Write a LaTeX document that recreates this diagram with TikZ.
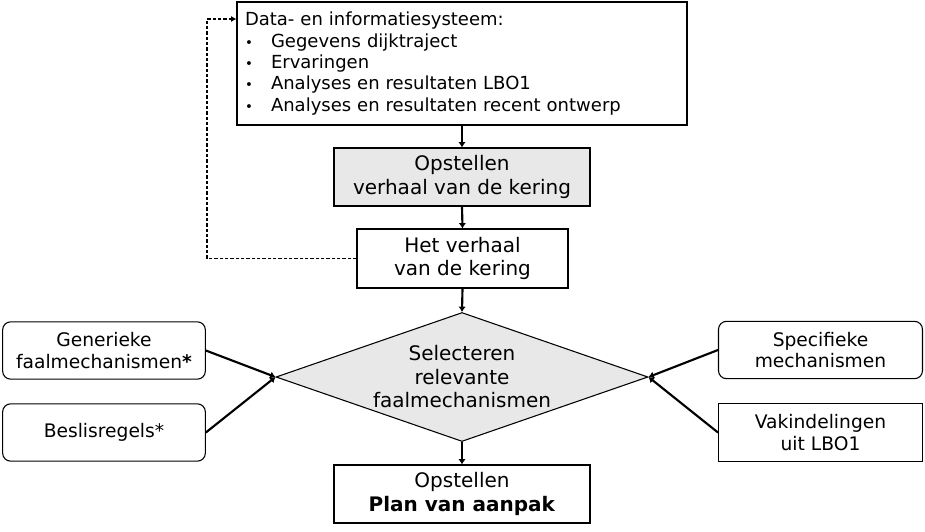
\documentclass[tikz,border=0pt]{standalone}
\usepackage{fontspec}
\setmainfont{DejaVu Sans}
\usetikzlibrary{arrows.meta, shapes.geometric}
\tikzset{
  infobox/.style={draw, line width=0.8pt, minimum width=337.5pt, minimum height=92.25pt, inner xsep=6pt, text width=325.5pt, align=left, font=\fontsize{13.5}{16}\selectfont},
  stepbox/.style={draw, line width=0.8pt, minimum width=192pt, minimum height=43.5pt, inner sep=0pt, align=center, font=\fontsize{15}{17.6}\selectfont},
  shaded/.style={fill=gray!18},
  decision/.style={draw, line width=0.8pt, diamond, fill=gray!18, minimum width=279pt, minimum height=96.75pt, inner sep=0pt},
  sidebox/.style={draw, line width=0.8pt, minimum width=152pt, minimum height=43pt, inner sep=0pt, align=center, font=\fontsize{14}{16}\selectfont},
  roundbox/.style={sidebox, rounded corners=6pt},
  myarrow/.style={-{Latex[length=4pt, width=5.5pt]}, line width=1.6pt},
  feedback/.style={dash pattern=on 2.5pt off 1.5pt, line width=0.8pt, -{Latex[length=4pt, width=4.5pt]}}
}
\newcommand{\blt}{\makebox[19.5pt][l]{\fontsize{10}{10}\selectfont\textbullet}}

\begin{document}
\begin{tikzpicture}[x=0.75pt, y=-0.75pt]
  \useasboundingbox (0,0) rectangle (925,532);

  % Main column
  \node[infobox] (data) at (462,63.5) {Data- en informatiesysteem:\\
    \blt Gegevens dijktraject\\
    \blt Ervaringen\\
    \blt Analyses en resultaten LBO1\\
    \blt Analyses en resultaten recent ontwerp};
  \node[stepbox, shaded] (opst) at (462,177) {Opstellen\\verhaal van de kering};
  \node[stepbox, minimum width=158.25pt, minimum height=44.25pt] (verhaal) at (462.5,258.5) {Het verhaal\\van de kering};
  \node[decision] (sel) at (462,377) {};
  \node[align=center, font=\fontsize{15}{17.6}\selectfont] (seltext) at (sel) {Selecteren\\relevante\\faalmechanismen};
  \node[stepbox] (plan) at (462,494) {Opstellen\\\textbf{Plan van aanpak}};

  % Inputs left and right
  \node[roundbox] (gen) at (104,350.5) {Generieke\\faalmechanismen\textbf{*}};
  \node[roundbox] (bes) at (104,432.5) {Beslisregels*};
  \node[roundbox, minimum width=153pt] (spec) at (820.5,350) {Specifieke\\mechanismen};
  \node[sidebox, minimum width=153pt] (vak) at (820.5,432.5) {Vakindelingen\\uit LBO1};

  % Flow down
  \draw[myarrow] (data.south) -- (opst.north);
  \draw[myarrow] (opst.south) -- (verhaal.north);
  \draw[myarrow] (verhaal.south) -- (sel.north);
  \draw[myarrow] (sel.south) -- (plan.north);

  % Inputs into the selection
  \draw[myarrow] (gen.east) -- (sel.west);
  \draw[myarrow] (bes.east) -- (sel.west);
  \draw[myarrow] (spec.west) -- (sel.east);
  \draw[myarrow] (vak.west) -- (sel.east);

  % Feedback to the information system
  \coordinate (fb) at (207,19);
  \draw[feedback] (verhaal.west) -| (fb) -- (data.north west |- fb);
\end{tikzpicture}
\end{document}
